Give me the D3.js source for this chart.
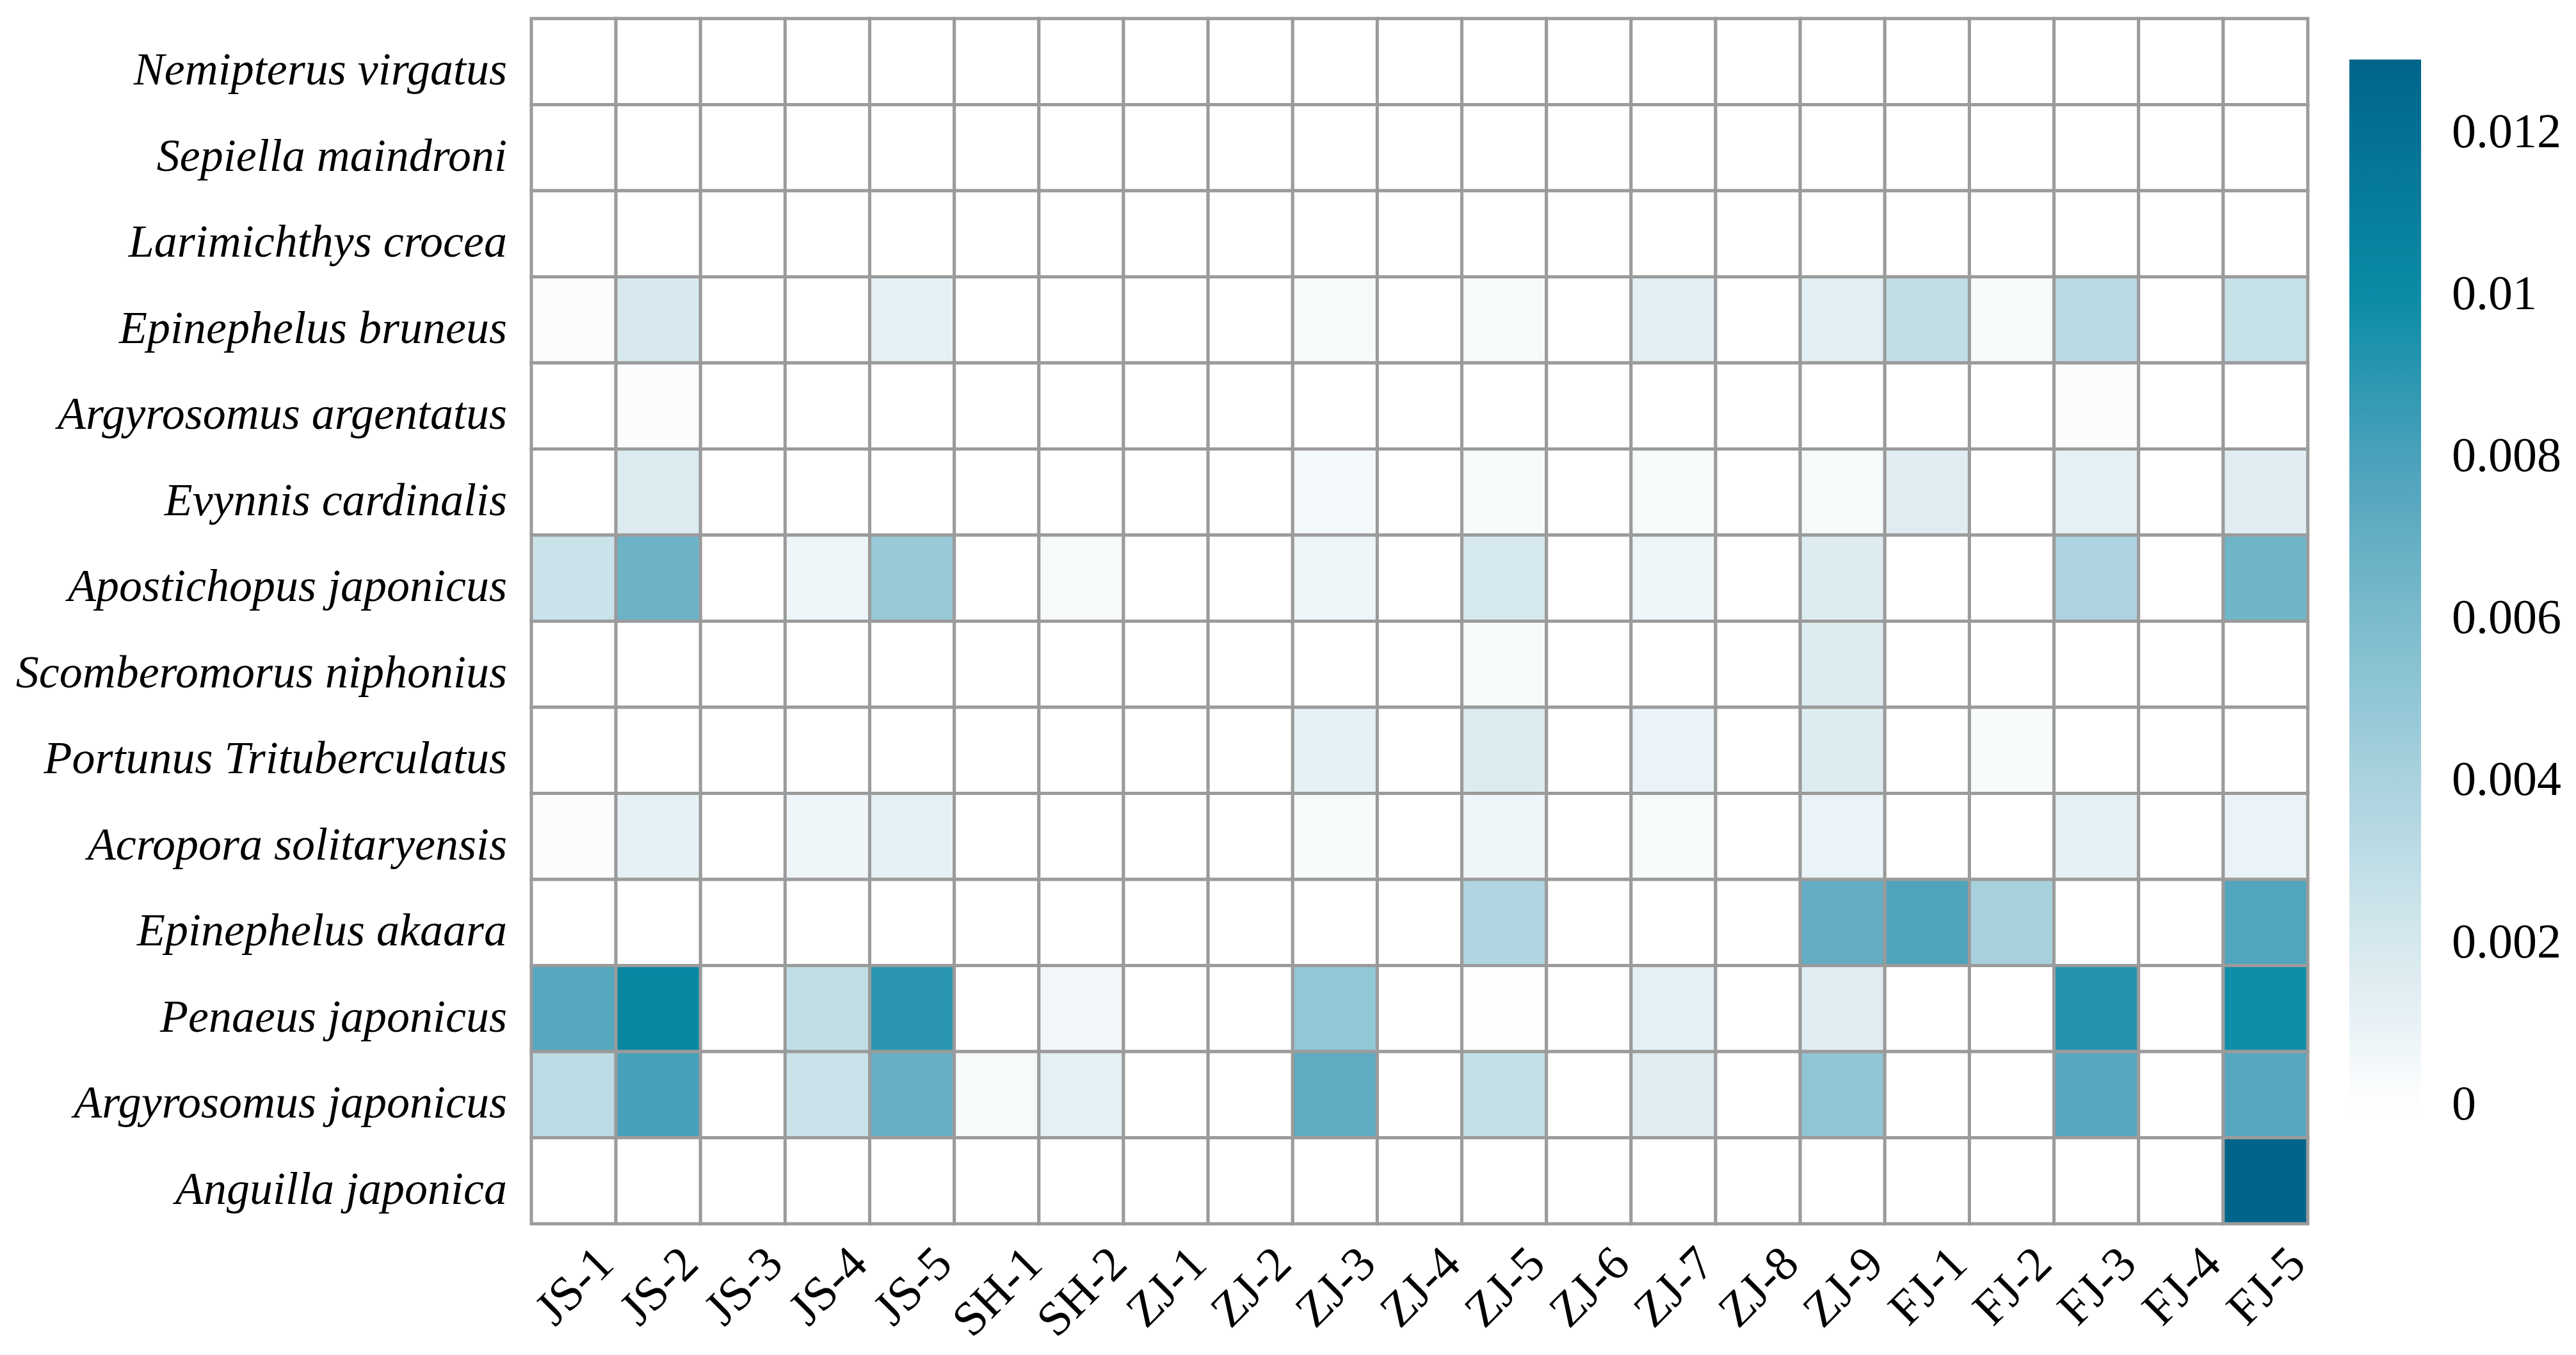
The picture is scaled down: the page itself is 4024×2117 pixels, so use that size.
<!DOCTYPE html>
<html>
<head>
<meta charset="utf-8">
<script src="https://cdn.jsdelivr.net/npm/d3@7"></script>
<style>
  html, body { margin: 0; padding: 0; background: #ffffff; }
  svg { display: block; }
</style>
</head>
<body>
<div id="chart"></div>
<script>
// ---------- data ----------
const sites = ["JS-1","JS-2","JS-3","JS-4","JS-5","SH-1","SH-2","ZJ-1","ZJ-2","ZJ-3","ZJ-4","ZJ-5","ZJ-6","ZJ-7","ZJ-8","ZJ-9","FJ-1","FJ-2","FJ-3","FJ-4","FJ-5"];

const species = [
  "Nemipterus virgatus","Sepiella maindroni","Larimichthys crocea","Epinephelus bruneus",
  "Argyrosomus argentatus","Evynnis cardinalis","Apostichopus japonicus","Scomberomorus niphonius",
  "Portunus Trituberculatus","Acropora solitaryensis","Epinephelus akaara","Penaeus japonicus",
  "Argyrosomus japonicus","Anguilla japonica"
];

const nemipterusVirgatus      = [0,0,0,0,0,0,0,0,0,0,0,0,0,0,0,0,0,0,0,0,0];
const sepiellaMaindroni       = [0,0,0,0,0,0,0,0,0,0,0,0,0,0,0,0,0,0,0,0,0];
const larimichthysCrocea      = [0,0,0,0,0,0,0,0,0,0,0,0,0,0,0,0,0,0,0,0,0];
const epinephelusBruneus      = [0.0002,0.0019,0,0,0.0012,0,0,0,0,0.0004,0,0.0003,0,0.0013,0,0.0013,0.0029,0.0003,0.0032,0,0.0027];
const argyrosomusArgentatus   = [0,0.0002,0,0,0,0,0,0,0,0,0,0,0,0,0,0,0,0,0.0002,0,0];
const evynnisCardinalis       = [0,0.0017,0,0,0,0,0,0,0,0.0005,0,0.0004,0,0.0004,0,0.0004,0.0015,0,0.0012,0,0.0014];
const apostichopusJaponicus   = [0.0025,0.0066,0,0.0007,0.0048,0,0.0004,0,0,0.0008,0,0.0020,0,0.0007,0,0.0016,0,0,0.0038,0,0.0065];
const scomberomorusNiphonius  = [0,0,0,0,0,0,0,0,0,0,0,0.0003,0,0,0,0.0016,0,0,0,0,0];
const portunusTrituberculatus = [0,0,0,0,0,0,0,0,0,0.0011,0,0.0017,0,0.0009,0,0.0016,0,0.0003,0,0,0];
const acroporaSolitaryensis   = [0.0002,0.0011,0,0.0007,0.0012,0,0,0,0,0.0003,0,0.0007,0,0.0003,0,0.0009,0,0,0.0012,0,0.0009];
const epinephelusAkaara       = [0,0,0,0,0,0,0,0,0,0,0,0.0037,0,0,0,0.0070,0.0078,0.0041,0,0,0.0077];
const penaeusJaponicus        = [0.0075,0.0103,0,0.0029,0.0090,0,0.0006,0,0,0.0050,0,0.0001,0,0.0012,0,0.0015,0,0,0.0092,0,0.0098];
const argyrosomusJaponicus    = [0.0031,0.0081,0,0.0025,0.0069,0.0004,0.0012,0,0,0.0072,0,0.0028,0,0.0015,0,0.0051,0,0,0.0075,0,0.0075];
const anguillaJaponica        = [0,0,0,0,0,0,0,0,0,0,0,0,0,0,0,0,0,0,0,0,0.0128];

const valueRows = [nemipterusVirgatus, sepiellaMaindroni, larimichthysCrocea, epinephelusBruneus,
  argyrosomusArgentatus, evynnisCardinalis, apostichopusJaponicus, scomberomorusNiphonius,
  portunusTrituberculatus, acroporaSolitaryensis, epinephelusAkaara, penaeusJaponicus,
  argyrosomusJaponicus, anguillaJaponica];

const colorTicks = [0, 0.002, 0.004, 0.006, 0.008, 0.01, 0.012];
const colorTickLabels = ["0","0.002","0.004","0.006","0.008","0.01","0.012"];
const colorStopValues = [0, 0.001, 0.002, 0.004, 0.006, 0.008, 0.010, 0.0129];
const colorStopColors = ["#ffffff","#e8f2f6","#d5e8ee","#a9d2de","#7bbbcd","#4aa1ba","#0a8ba6","#00648a"];

// ---------- layout ----------
const W = 4024, H = 2117;
const grid = { left: 830, right: 3605, top: 29, bottom: 1912 };
const cbar = { left: 3670, right: 3782, top: 93, bottom: 1740 };
const serif = "'Liberation Serif', 'Times New Roman', Times, serif";

const svg = d3.select("#chart").append("svg")
  .attr("width", W).attr("height", H)
  .style("background", "#ffffff");

const x = d3.scaleBand().domain(sites).range([grid.left, grid.right]).padding(0);
const y = d3.scaleBand().domain(species).range([grid.top, grid.bottom]).padding(0);
const color = d3.scaleLinear().domain(colorStopValues).range(colorStopColors).clamp(true);

const cells = [];
species.forEach((sp, i) => {
  sites.forEach((st, j) => cells.push({ sp, st, v: valueRows[i][j] }));
});

// cells
svg.append("g").selectAll("rect").data(cells).join("rect")
  .attr("x", d => x(d.st))
  .attr("y", d => y(d.sp))
  .attr("width", x.bandwidth())
  .attr("height", y.bandwidth())
  .attr("fill", d => color(d.v))
  .attr("stroke", "#9b9b9b")
  .attr("stroke-width", 5);

// row labels
svg.append("g").selectAll("text").data(species).join("text")
  .attr("x", grid.left - 38)
  .attr("y", d => y(d) + y.bandwidth() / 2 + 12)
  .attr("text-anchor", "end")
  .attr("dominant-baseline", "central")
  .attr("font-family", serif)
  .attr("font-style", "italic")
  .attr("font-size", 72)
  .attr("fill", "#000")
  .text(d => d);

// column labels (rotated 45deg, bbox centered under column, top-aligned)
const labelTop = 1942;
const colLabels = svg.append("g").selectAll("text").data(sites).join("text")
  .attr("text-anchor", "middle")
  .attr("dominant-baseline", "central")
  .attr("font-family", serif)
  .attr("font-size", 76)
  .attr("fill", "#000")
  .text(d => d);
colLabels.each(function(d) {
  const bb = this.getBBox();
  const capH = 76 * 0.68;
  const rotH = (bb.width + capH) * Math.SQRT1_2;
  const cx = x(d) + x.bandwidth() / 2;
  const cy = labelTop + rotH / 2;
  d3.select(this).attr("transform", `translate(${cx},${cy}) rotate(-45)`);
});

// colour bar
const cbScale = d3.scaleLinear().domain([0, 0.012]).range([1724, 205]);
const cbMin = cbScale.invert(cbar.bottom), cbMax = cbScale.invert(cbar.top);
const defs = svg.append("defs");
const grad = defs.append("linearGradient").attr("id", "cbgrad")
  .attr("x1", 0).attr("y1", 1).attr("x2", 0).attr("y2", 0);
d3.range(0, 41).forEach(k => {
  const t = k / 40;
  const v = cbMin + t * (cbMax - cbMin);
  grad.append("stop").attr("offset", t).attr("stop-color", color(v));
});
svg.append("rect")
  .attr("x", cbar.left).attr("y", cbScale(cbMax))
  .attr("width", cbar.right - cbar.left)
  .attr("height", cbScale(cbMin) - cbScale(cbMax))
  .attr("fill", "url(#cbgrad)");

const cbAxis = d3.axisRight(cbScale).tickValues(colorTicks)
  .tickFormat((d, i) => colorTickLabels[i]).tickSize(0).tickPadding(48);
const gAxis = svg.append("g").attr("transform", `translate(${cbar.right},0)`).call(cbAxis);
gAxis.select(".domain").remove();
gAxis.selectAll("text")
  .attr("font-family", serif)
  .attr("font-size", 76)
  .attr("fill", "#000")
  .attr("dy", "0.32em");
</script>
</body>
</html>
